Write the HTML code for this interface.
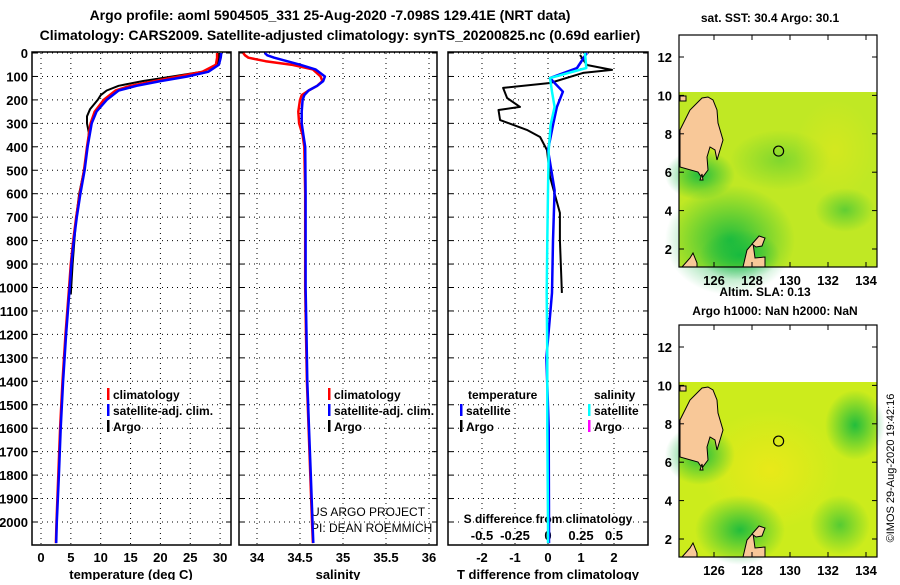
<!DOCTYPE html>
<html><head><meta charset="utf-8"><style>
body{margin:0;background:#fff;width:900px;height:580px;overflow:hidden}
svg{font-family:"Liberation Sans",Arial,sans-serif;font-weight:bold}
.tk{font-size:13px}
.lg{font-size:12px;stroke:#fff;stroke-width:3;paint-order:stroke}
</style></head><body>
<svg id="c" width="900" height="580" viewBox="0 0 900 580">
<text x="330" y="20" text-anchor="middle" font-size="14">Argo profile: aoml 5904505_331 25-Aug-2020 -7.098S 129.41E (NRT data)</text>
<text x="340" y="40" text-anchor="middle" font-size="14">Climatology: CARS2009. Satellite-adjusted climatology: synTS_20200825.nc (0.69d earlier)</text>
<g id="g"></g>
</svg>
<script>
// ---- data ----
const tDepth=[0,20,50,80,100,120,140,160,200,250,300,400,500,600,700,800,900,1000,1200,1400,1600,1800,2000,2090];
const tClim=[29.5,29.5,29.3,27,23,19,15,12.5,10.5,9,8.3,7.7,7.2,6.5,5.9,5.4,5.0,4.7,4.1,3.6,3.2,2.9,2.6,2.5];
const tSat=[30.2,30.1,29.8,28,24.5,20,16,13,11,9.3,8.5,7.8,7.3,6.6,6.0,5.5,5.1,4.8,4.2,3.7,3.3,3.0,2.65,2.55];
const aDepth=[0,20,50,80,100,120,140,160,180,200,240,270,300,340,400,500,600,700,800,900,1030];
const tArgo=[29.8,29.8,29.5,27,22,17,13,11,10,9.5,8.2,7.7,7.7,8,7.8,7.2,6.4,5.9,5.6,5.3,5.0];
const sDepth=[0,10,20,35,50,70,100,120,140,160,180,200,250,300,350,400,600,800,1000,1200,1400,1600,1800,2000,2090];
const sClim=[33.84,33.86,33.9,34.1,34.4,34.65,34.74,34.76,34.7,34.6,34.52,34.5,34.48,34.49,34.53,34.55,34.56,34.56,34.56,34.57,34.58,34.6,34.62,34.64,34.65];
const sSat=[34.09,34.12,34.2,34.35,34.5,34.68,34.79,34.77,34.7,34.6,34.55,34.53,34.52,34.52,34.54,34.56,34.565,34.565,34.565,34.575,34.585,34.605,34.625,34.645,34.655];
const dDepth=[8,51,72,85,128,149,192,230,243,286,328,358,414,528,682,797,1023];
const dArgo=[0.97,1.18,1.94,1.06,0.06,-1.36,-1.24,-0.85,-1.5,-1.45,-0.64,-0.24,-0.03,0.06,0.36,0.36,0.42];
const dsDepth=[0,64,107,165,230,307,414,585,800,1023,1300,1600,2000,2090];
const dSatT=[1.18,0.88,0.06,0.45,0.27,0.15,0,0.2,0.15,0.12,-0.05,0.02,0.03,0.03];
const dSatS=[0.28,0.29,0.015,0.03,0.05,0.02,0.005,0,-0.005,-0.01,-0.005,-0.005,0,0];
const depthTicks=[0,100,200,300,400,500,600,700,800,900,1000,1100,1200,1300,1400,1500,1600,1700,1800,1900,2000];
const tTicks=[0,5,10,15,20,25,30];
const sTicks=[34,34.5,35,35.5,36];
const dTTicks=[-2,-1,0,1,2];
const dSTicks=[-0.5,-0.25,0,0.25,0.5];
const latTicks=[2,4,6,8,10,12];
const lonTicks=[126,128,130,132,134];

const NS='http://www.w3.org/2000/svg';
const G=document.getElementById('g');
function el(t,a,p){const e=document.createElementNS(NS,t);for(const k in a)e.setAttribute(k,a[k]);(p||G).appendChild(e);return e;}
const pTop=53,pBot=545;
const Y=d=>53+d*0.2345;
const X1=v=>41+v*5.97, X2=v=>257+(v-34)*86, X3=v=>548+v*33, XS=v=>548+v*132;
function grid(x0,x1,xs,xf){
  depthTicks.forEach(d=>{const l=el('line',{x1:x0,x2:x1,y1:Y(d),y2:Y(d),stroke:'#000','stroke-dasharray':'1,4'});
  
  el('line',{x1:x0,x2:x0+5,y1:Y(d),y2:Y(d),stroke:'#000'});el('line',{x1:x1-5,x2:x1,y1:Y(d),y2:Y(d),stroke:'#000'});});
  xs.forEach(v=>{const l=el('line',{x1:xf(v),x2:xf(v),y1:pTop,y2:pBot,stroke:'#000','stroke-dasharray':'1,4'});
  });
  const r=el('rect',{x:x0,y:pTop-1,width:x1-x0,height:pBot-pTop+1,fill:'none',stroke:'#000','stroke-width':1.5});
  
}
grid(32,231,tTicks,X1);grid(239,437,sTicks,X2);grid(448,648,dTTicks,X3);
depthTicks.forEach(d=>{const t=el('text',{x:28,y:Y(d)+5,'text-anchor':'end',class:'tk'});t.textContent=d;
});
function xlab(arr,f,y){arr.forEach(v=>{const t=el('text',{x:f(v),y:y,'text-anchor':'middle',class:'tk'});t.textContent=v;
});}
xlab(tTicks,X1,562);xlab(sTicks,X2,562);xlab(dTTicks,X3,562);xlab(dSTicks,XS,540);
function txt(s,x,y,a,n,sz,w){const t=el('text',{x:x,y:y,'text-anchor':a||'start','font-size':sz||13,'font-weight':w||'bold'});t.textContent=s;
return t;}
txt('temperature (deg C)',131,579,'middle','x-axis-title-temperature');
txt('salinity',338,579,'middle','x-axis-title-salinity');
txt('T difference from climatology',548,579,'middle','x-axis-title-t-diff');
const sd=txt('S difference from climatology',548,523,'middle','s-diff-axis-title');sd.setAttribute('class','lg');sd.setAttribute('font-size','13');
txt('US ARGO PROJECT',311,516,'start','credit-project',12,'normal');
txt('PI: DEAN ROEMMICH',311,532,'start','credit-pi',12,'normal');
function line(ds,vs,f,col,w,n){const p=ds.map((d,i)=>(i?'L':'M')+f(vs[i]).toFixed(1)+','+Y(d).toFixed(1)).join('');
const e=el('path',{d:p,fill:'none',stroke:col,'stroke-width':w,'stroke-linejoin':'round'});
}
line(aDepth,tArgo,X1,'#000',2,'argo-temperature-line');
line(tDepth,tClim,X1,'#f00',2.5,'clim-temperature-line');
line(tDepth,tSat,X1,'#00f',2.5,'sat-temperature-line');
line(sDepth,sClim,X2,'#f00',2.5,'clim-salinity-line');
line(sDepth,sSat,X2,'#00f',2.5,'sat-salinity-line');
line(dDepth,dArgo,X3,'#000',2,'argo-t-diff-line');
line(dsDepth,dSatT,X3,'#00f',2.5,'sat-t-diff-line');
line(dsDepth,dSatS,XS,'#0ff',2.5,'sat-s-diff-line');
function leg(x,y,col,s,n){const m=el('rect',{x:x,y:y-9,width:2.5,height:12,fill:col});
const t=el('text',{x:x+6,y:y+2,class:'lg'});t.textContent=s;}
leg(107,397,'#f00','climatology','legend-climatology');leg(107,413,'#00f','satellite-adj. clim.','legend-satellite');leg(107,429,'#000','Argo','legend-argo');
leg(328,397,'#f00','climatology','legend-climatology-s');leg(328,413,'#00f','satellite-adj. clim.','legend-satellite-s');leg(328,429,'#000','Argo','legend-argo-s');
const lt=el('text',{x:468,y:399,class:'lg'});lt.textContent='temperature';
const ls=el('text',{x:594,y:399,class:'lg'});ls.textContent='salinity';
leg(460,413,'#00f','satellite','legend-t-satellite');leg(460,429,'#000','Argo','legend-t-argo');
leg(588,413,'#0ff','satellite','legend-s-satellite');leg(588,429,'#f0f','Argo','legend-s-argo');
const MX=v=>714+(v-126)*19, MY=v=>249-(v-2)*19.2;
const land=[
 [[680,130],[690,110],[702,98],[708,97],[713,100],[717,110],[718,123],[723,140],[717,160],[715,150],[710,147],[707,157],[708,170],[702,178],[698,172],[680,167]],
 [[680,96],[686,96],[686,101],[680,101]],
 [[743,267],[747,250],[753,243],[755,258],[765,257],[765,267]],
 [[752,244],[759,236],[765,238],[762,246],[756,247]],
 [[682,267],[690,258],[693,253],[697,263],[697,267]],
 [[702,174],[703,180],[700,180]]
];
function map(dy,id,variant){
 const g=el('g',{transform:'translate(0,'+dy+')'});
 const defs=el('defs',{},g);
 const mk=(nm,c,o)=>{const r=el('radialGradient',{id:nm},defs);el('stop',{offset:'0','stop-color':c,'stop-opacity':o},r);el('stop',{offset:'1','stop-color':c,'stop-opacity':0},r);};
 mk(id+'g','#10b840',0.9);mk(id+'y','#f0e818',0.8);
 el('rect',{x:679,y:92,width:198,height:175,fill:variant?'#ccec1c':'#c0e824'},g);
 if(!variant){
  el('ellipse',{cx:730,cy:240,rx:65,ry:55,fill:'url(#'+id+'g)'},g);
  el('ellipse',{cx:740,cy:255,rx:40,ry:25,fill:'url(#'+id+'g)'},g);
  el('ellipse',{cx:700,cy:175,rx:35,ry:25,fill:'url(#'+id+'g)'},g);
  el('ellipse',{cx:780,cy:160,rx:50,ry:30,fill:'url(#'+id+'g)','opacity':0.4},g);
  el('ellipse',{cx:845,cy:210,rx:30,ry:22,fill:'url(#'+id+'g)','opacity':0.6},g);
  el('ellipse',{cx:835,cy:150,rx:40,ry:50,fill:'url(#'+id+'y)','opacity':0.5},g);
 }else{
  el('ellipse',{cx:770,cy:180,rx:70,ry:60,fill:'url(#'+id+'y)'},g);
  el('ellipse',{cx:700,cy:165,rx:35,ry:30,fill:'url(#'+id+'g)'},g);
  el('ellipse',{cx:740,cy:240,rx:45,ry:35,fill:'url(#'+id+'g)'},g);
  el('ellipse',{cx:855,cy:135,rx:30,ry:35,fill:'url(#'+id+'g)'},g);
  el('ellipse',{cx:840,cy:235,rx:30,ry:30,fill:'url(#'+id+'g)','opacity':0.7},g);
 }
 land.forEach(p=>{const e=el('polygon',{points:p.map(q=>q.join(',')).join(' '),fill:'#f8c898',stroke:'#000','stroke-width':1},g);
 });
 const c=el('circle',{cx:MX(129.4),cy:MY(7.1),r:5,fill:'none',stroke:'#000','stroke-width':1.2},g);
 
 el('rect',{x:679,y:35,width:198,height:232,fill:'none',stroke:'#000','stroke-width':1.2},g);
 latTicks.forEach(v=>{el('line',{x1:679,x2:684,y1:MY(v),y2:MY(v),stroke:'#000'},g);el('line',{x1:872,x2:877,y1:MY(v),y2:MY(v),stroke:'#000'},g);
  const t=el('text',{x:672,y:MY(v)+5,'text-anchor':'end',class:'tk'},g);t.textContent=v;});
 lonTicks.forEach(v=>{el('line',{x1:MX(v),x2:MX(v),y1:35,y2:40,stroke:'#000'},g);el('line',{x1:MX(v),x2:MX(v),y1:262,y2:267,stroke:'#000'},g);
  const t=el('text',{x:MX(v),y:285,'text-anchor':'middle',class:'tk'},g);t.textContent=v;});
}
map(0,'sst-map',0);map(290,'sla-map',1);
txt('sat. SST: 30.4  Argo: 30.1',770,22,'middle','sst-map-title',12);
txt('Altim. SLA: 0.13',765,296,'middle','sla-label',12);
txt('Argo h1000: NaN  h2000: NaN',775,315,'middle','sla-map-title',12);
const cr=txt('©IMOS 29-Aug-2020 19:42:16',0,0,'middle','imos-credit',11,'normal');
cr.setAttribute('transform','translate(894,468) rotate(-90)');
</script>
</body></html>
